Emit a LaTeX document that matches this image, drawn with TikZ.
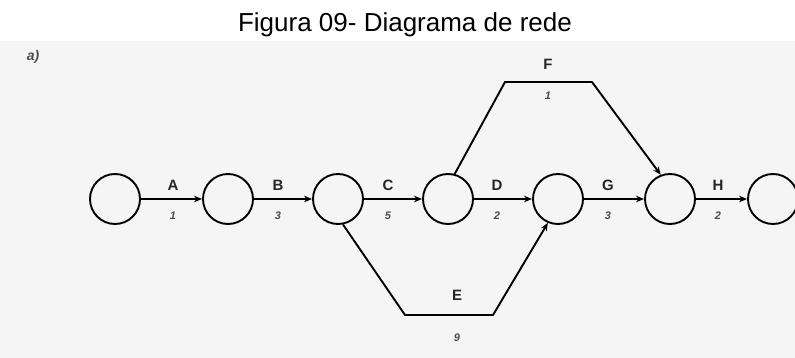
\documentclass[tikz,border=0pt]{standalone}
\usepackage{fontspec}
\setmainfont{Liberation Sans}
\usetikzlibrary{arrows.meta}
\begin{document}
\begin{tikzpicture}[x=1pt,y=-1pt,
  ev/.style={draw=black,line width=1.9pt,circle,minimum size=50pt,inner sep=0pt},
  act/.style={line width=1.9pt,-{Stealth[length=8pt,width=6.5pt]}},
  lbl/.style={font=\bfseries\fontsize{15}{15}\selectfont,text=black!85,inner sep=0pt},
  dur/.style={font=\bfseries\itshape\fontsize{11}{11}\selectfont,text=black!70,inner sep=0pt}]
\useasboundingbox (0,0) rectangle (795,358);
\fill[black!4] (0,41) rectangle (795,358);
\node[font=\fontsize{26}{28}\selectfont,anchor=base] (title) at (405,32) {Figura 09- Diagrama de rede};
\node[font=\itshape\bfseries\fontsize{14}{14}\selectfont,text=black!70] (part) at (33,57) {a)};
\node[ev] (n1) at (115,199) {};
\node[ev] (n2) at (228,199) {};
\node[ev] (n3) at (338,199) {};
\node[ev] (n4) at (448,199) {};
\node[ev] (n5) at (558,199) {};
\node[ev] (n6) at (670,199) {};
\node[ev] (n7) at (773,199) {};
\coordinate (f1) at (505,82);
\coordinate (f2) at (592,82);
\coordinate (e1) at (405,315);
\coordinate (e2) at (493,315);
\draw[act] (n1) -- (n2);
\draw[act] (n2) -- (n3);
\draw[act] (n3) -- (n4);
\draw[act] (n4) -- (n5);
\draw[act] (n5) -- (n6);
\draw[act] (n6) -- (n7);
\draw[act,line join=round] (n4.75) -- (f1) -- (f2) -- (n6.111);
\draw[act,line join=round] (n3.-79) -- (e1) -- (e2) -- (n5.-113);
\node[lbl] (lA) at (173,185) {A};
\node[dur] (dA) at (173,216) {1};
\node[lbl] (lB) at (278,185) {B};
\node[dur] (dB) at (278,216) {3};
\node[lbl] (lC) at (388,185) {C};
\node[dur] (dC) at (388,216) {5};
\node[lbl] (lD) at (497,185) {D};
\node[dur] (dD) at (497,216) {2};
\node[lbl] (lG) at (608,185) {G};
\node[dur] (dG) at (608,216) {3};
\node[lbl] (lH) at (718,185) {H};
\node[dur] (dH) at (718,216) {2};
\node[lbl] (lF) at (548,64) {F};
\node[dur] (dF) at (548,96) {1};
\node[lbl] (lE) at (457,295) {E};
\node[dur] (dE) at (457,338) {9};
\end{tikzpicture}
\end{document}
